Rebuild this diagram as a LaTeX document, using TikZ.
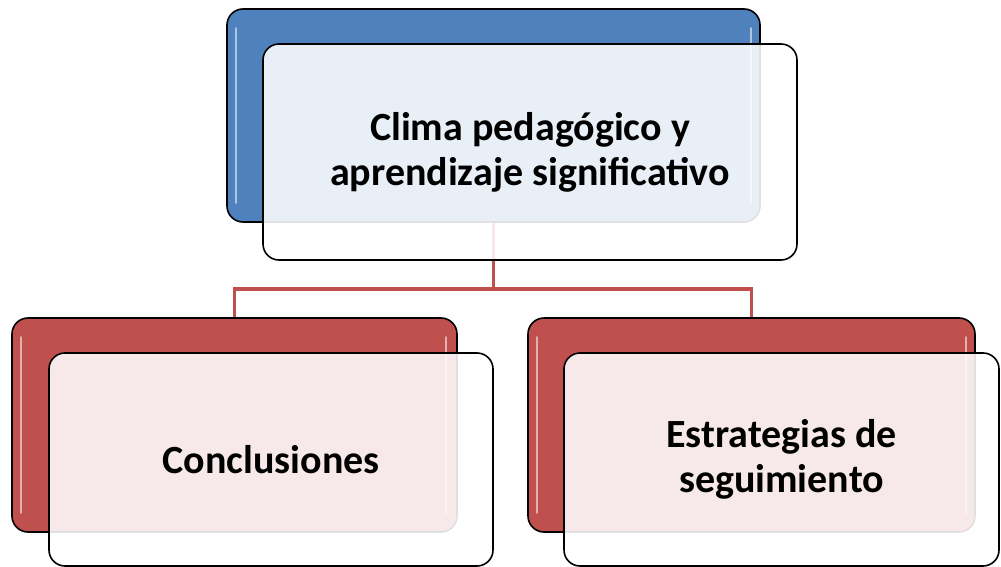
\documentclass[tikz,border=0pt]{standalone}
\usepackage{fontspec}
\setmainfont{Carlito}
\definecolor{topblue}{HTML}{4F81BD}
\definecolor{kidred}{HTML}{C0504D}
\begin{document}
\begin{tikzpicture}[x=1pt,y=-1pt,
  backbox/.style={draw=black, line width=1.6pt, rounded corners=16pt, inner sep=0pt},
  frontbox/.style={draw=black, line width=1.6pt, rounded corners=16pt, fill=white, fill opacity=0.88, text opacity=1, inner sep=0pt,
     align=center, font=\fontsize{40}{45}\selectfont\bfseries},
  link/.style={draw=kidred, line width=3.5pt},
  gloss/.style={draw=white, line width=2.5pt, line cap=round, draw opacity=0.55}]
\useasboundingbox (0,0) rectangle (1001,567);
% back boxes
\node[backbox, fill=topblue, minimum width=533pt, minimum height=213pt] (tb) at (493.5,115.5) {};
\node[backbox, fill=kidred, minimum width=445pt, minimum height=214pt] (lb) at (234.5,425) {};
\node[backbox, fill=kidred, minimum width=447pt, minimum height=214pt] (rb) at (751.5,425) {};
% gloss highlights
\draw[gloss] ([xshift=10pt,yshift=-20pt]tb.north west) -- ([xshift=10pt,yshift=20pt]tb.south west);
\draw[gloss] ([xshift=-10pt,yshift=-20pt]tb.north east) -- ([xshift=-10pt,yshift=20pt]tb.south east);
\draw[gloss] ([xshift=10pt,yshift=-20pt]lb.north west) -- ([xshift=10pt,yshift=20pt]lb.south west);
\draw[gloss] ([xshift=-12pt,yshift=-20pt]lb.north east) -- ([xshift=-12pt,yshift=20pt]lb.south east);
\draw[gloss] ([xshift=10pt,yshift=-20pt]rb.north west) -- ([xshift=10pt,yshift=20pt]rb.south west);
\draw[gloss] ([xshift=-10pt,yshift=-20pt]rb.north east) -- ([xshift=-10pt,yshift=20pt]rb.south east);
% connectors
\coordinate (mid) at (493.5,289);
\draw[link] (tb.south) -- (mid);
\draw[link] (mid) -| (lb.north);
\draw[link] (mid) -| (rb.north);
% front boxes
\node[frontbox, minimum width=534pt, minimum height=216pt] (tf) at (530,152) {Clima pedagógico y\\aprendizaje significativo};
\node[frontbox, minimum width=444pt, minimum height=213pt] (lf) at (271,459.5) {Conclusiones};
\node[frontbox, minimum width=435pt, minimum height=213pt] (rf) at (781.5,459.5) {Estrategias de\\seguimiento};
\end{tikzpicture}
\end{document}
